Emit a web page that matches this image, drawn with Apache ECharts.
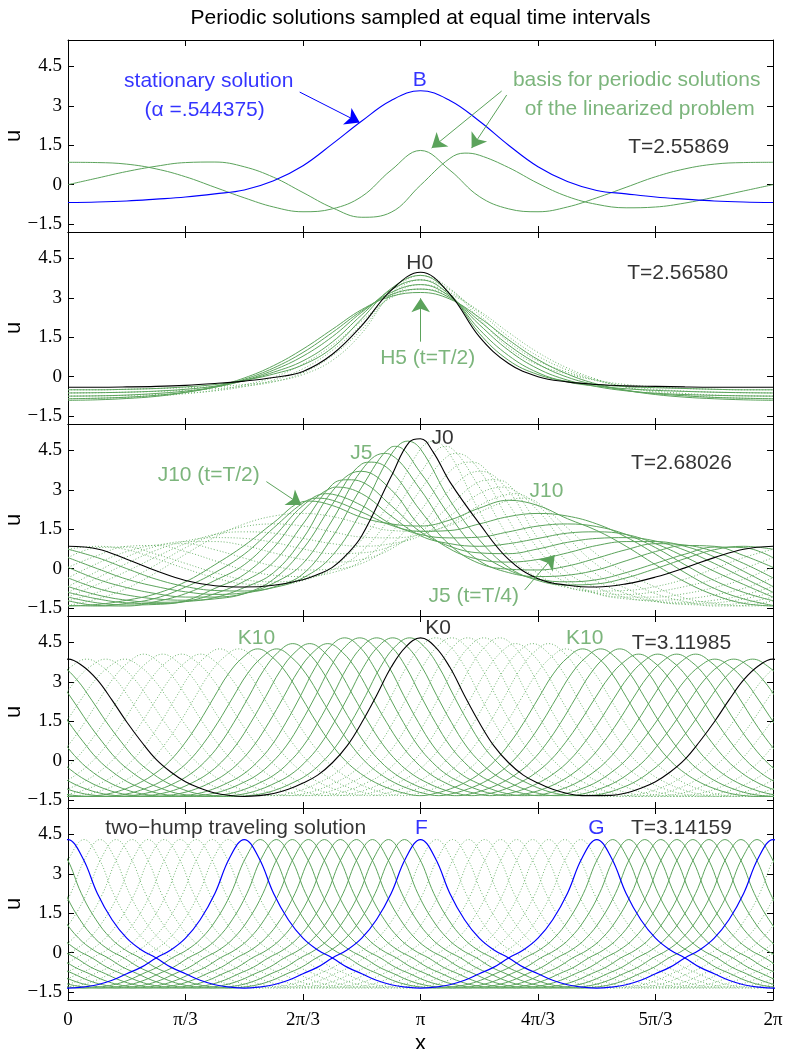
<!DOCTYPE html>
<html><head><meta charset="utf-8">
<script src="https://cdn.jsdelivr.net/npm/echarts@6/dist/echarts.min.js"></script>
<style>html,body{margin:0;padding:0;background:#fff}#c{width:786px;height:1049px}</style>
</head><body><div id="c"></div>
<script>
const PI = Math.PI;
// ---------------- axis data ----------------
const X_TICKS = [0, PI/3, 2*PI/3, PI, 4*PI/3, 5*PI/3, 2*PI];
const X_TICK_LABELS = ['0','π/3','2π/3','π','4π/3','5π/3','2π'];
const Y_TICKS = [-1.5, 0, 1.5, 3, 4.5];
const Y_TICK_LABELS = ['\u22121.5','0','1.5','3','4.5'];
const TITLE = 'Periodic solutions sampled at equal time intervals';
// sampling grid: 25 points, step pi/12
const XS = Array.from({length: 25}, (_, i) => i * PI / 12);
const STEP = PI / 24; // profile offset step

// ---------------- panel 1 : stationary solution B ----------------
const B_STATIONARY = [-0.68,-0.66,-0.62,-0.55,-0.47,-0.35,-0.2,0.15,0.72,1.55,2.42,3.2,3.57,3.2,2.42,1.5,0.68,0.12,-0.22,-0.35,-0.47,-0.55,-0.62,-0.66,-0.68];
const BASIS_A = [0.85,0.84,0.78,0.6,0.3,-0.1,-0.5,-0.85,-1.03,-0.92,-0.45,0.55,1.3,0.55,-0.45,-0.92,-1.03,-0.85,-0.5,-0.1,0.3,0.6,0.78,0.84,0.85];
const BASIS_B = [0.0,0.25,0.5,0.7,0.84,0.86,0.68,0.28,-0.3,-0.88,-1.24,-1.05,-0.02,1.0,1.12,0.65,0.05,-0.45,-0.75,-0.88,-0.85,-0.7,-0.48,-0.24,0.0];
const BASIS_B_EXTREMA = [[3.537,1.2]];

// ---------------- panel 2 : H family ----------------
const H0 = [-0.4,-0.4,-0.39,-0.37,-0.33,-0.26,-0.17,-0.03,0.2,0.85,1.94,3.28,3.97,3.14,1.52,0.5,0.0,-0.2,-0.3,-0.35,-0.37,-0.39,-0.4,-0.4,-0.4];
const H1 = [-0.5,-0.5,-0.48,-0.45,-0.39,-0.3,-0.14,0.1,0.45,1.1,2.2,3.35,3.85,3.15,1.65,0.62,0.08,-0.18,-0.3,-0.38,-0.42,-0.45,-0.48,-0.5,-0.5];
const H2 = [-0.62,-0.61,-0.59,-0.55,-0.48,-0.36,-0.15,0.17,0.6,1.32,2.35,3.3,3.68,3.1,1.8,0.8,0.15,-0.2,-0.36,-0.46,-0.52,-0.56,-0.59,-0.61,-0.62];
const H3 = [-0.74,-0.73,-0.7,-0.64,-0.55,-0.4,-0.14,0.25,0.78,1.52,2.45,3.2,3.5,3.05,1.98,1.0,0.3,-0.13,-0.38,-0.54,-0.63,-0.68,-0.71,-0.73,-0.74];
const H4 = [-0.84,-0.82,-0.78,-0.71,-0.59,-0.4,-0.1,0.33,0.92,1.68,2.5,3.12,3.33,3.0,2.12,1.2,0.48,-0.02,-0.32,-0.52,-0.65,-0.73,-0.79,-0.82,-0.84];
const H5 = [-0.9,-0.88,-0.83,-0.75,-0.6,-0.38,-0.05,0.42,1.05,1.8,2.55,3.05,3.2,2.95,2.25,1.4,0.65,0.1,-0.28,-0.52,-0.68,-0.78,-0.84,-0.88,-0.9];
const H6 = [-0.84,-0.82,-0.79,-0.73,-0.65,-0.52,-0.32,-0.02,0.48,1.2,2.12,3.0,3.33,3.12,2.5,1.68,0.92,0.33,-0.1,-0.4,-0.59,-0.71,-0.78,-0.82,-0.84];
const H7 = [-0.74,-0.73,-0.71,-0.68,-0.63,-0.54,-0.38,-0.13,0.3,1.0,1.98,3.05,3.5,3.2,2.45,1.52,0.78,0.25,-0.14,-0.4,-0.55,-0.64,-0.7,-0.73,-0.74];
const H8 = [-0.62,-0.61,-0.59,-0.56,-0.52,-0.46,-0.36,-0.2,0.15,0.8,1.8,3.1,3.68,3.3,2.35,1.32,0.6,0.17,-0.15,-0.36,-0.48,-0.55,-0.59,-0.61,-0.62];
const H9 = [-0.5,-0.5,-0.48,-0.45,-0.42,-0.38,-0.3,-0.18,0.08,0.62,1.65,3.15,3.85,3.35,2.2,1.1,0.45,0.1,-0.14,-0.3,-0.39,-0.45,-0.48,-0.5,-0.5];

// ---------------- panel 3 : J family ----------------
const J0 = [0.85,0.75,0.36,-0.08,-0.45,-0.65,-0.7,-0.63,-0.42,0.05,1.25,3.5,4.94,3.3,1.72,0.35,-0.38,-0.63,-0.7,-0.58,-0.32,0.03,0.42,0.74,0.85];
const J0_EXTRA = [[2.225,-0.22],[2.487,0.55],[3.043,4.82],[3.252,4.45]];
const J1 = [0.74,0.42,0.0,-0.4,-0.68,-0.83,-0.85,-0.72,-0.35,0.5,2.2,4.34,4.55,2.6,1.1,0.05,-0.45,-0.62,-0.58,-0.35,0.0,0.38,0.72,0.85,0.74];
const J2 = [0.42,0.0,-0.4,-0.68,-0.88,-0.98,-0.92,-0.7,-0.2,1.2,3.1,4.62,3.65,2.0,0.65,-0.05,-0.4,-0.5,-0.42,-0.15,0.2,0.55,0.82,0.8,0.42];
const J3 = [0.05,-0.4,-0.72,-0.95,-1.08,-1.08,-0.95,-0.55,0.2,1.85,3.75,4.33,3.0,1.35,0.3,-0.15,-0.3,-0.25,-0.05,0.3,0.65,0.88,0.85,0.5,0.05];
const J4 = [-0.35,-0.75,-1.0,-1.15,-1.2,-1.15,-0.95,-0.4,0.75,2.45,3.98,3.7,2.2,0.9,0.2,-0.02,-0.05,0.1,0.4,0.72,0.95,0.9,0.65,0.2,-0.35];
const J5 = [-0.68,-1.0,-1.2,-1.28,-1.25,-1.1,-0.72,-0.15,1.15,2.95,3.7,3.0,1.6,0.75,0.35,0.25,0.35,0.6,0.88,1.03,1.03,0.85,0.45,-0.1,-0.68];
const J6 = [-0.9,-1.15,-1.3,-1.33,-1.25,-0.95,-0.48,0.25,1.7,3.2,3.3,2.4,1.4,0.85,0.6,0.57,0.75,1.0,1.15,1.18,1.05,0.7,0.2,-0.35,-0.9];
const J7 = [-1.08,-1.3,-1.38,-1.36,-1.22,-0.75,-0.22,0.8,2.2,3.08,2.85,2.0,1.25,0.95,0.85,0.95,1.15,1.35,1.4,1.3,0.95,0.45,-0.1,-0.6,-1.08];
const J8 = [-1.22,-1.4,-1.42,-1.25,-0.95,-0.45,0.15,1.2,2.4,2.83,2.4,1.7,1.3,1.17,1.2,1.4,1.62,1.7,1.6,1.3,0.8,0.15,-0.45,-0.9,-1.22];
const J9 = [-1.4,-1.42,-1.32,-1.12,-0.7,-0.15,0.55,1.55,2.5,2.6,2.15,1.65,1.42,1.45,1.7,1.98,2.1,2.0,1.7,1.2,0.55,-0.15,-0.75,-1.15,-1.4];
const J10 = [-1.42,-1.36,-1.2,-0.95,-0.5,0.15,0.88,1.75,2.55,2.4,1.95,1.7,1.62,1.85,2.3,2.6,2.4,1.9,1.45,0.85,0.15,-0.5,-1.0,-1.32,-1.42];
const J11 = [-1.4,-1.15,-0.75,-0.15,0.55,1.2,1.7,2.0,2.1,1.98,1.7,1.45,1.42,1.65,2.15,2.6,2.5,1.55,0.55,-0.15,-0.7,-1.12,-1.32,-1.42,-1.4];
const J12 = [-1.22,-0.9,-0.45,0.15,0.8,1.3,1.6,1.7,1.62,1.4,1.2,1.17,1.3,1.7,2.4,2.83,2.4,1.2,0.15,-0.45,-0.95,-1.25,-1.42,-1.4,-1.22];
const J13 = [-1.08,-0.6,-0.1,0.45,0.95,1.3,1.4,1.35,1.15,0.95,0.85,0.95,1.25,2.0,2.85,3.08,2.2,0.8,-0.22,-0.75,-1.22,-1.36,-1.38,-1.3,-1.08];
const J14 = [-0.9,-0.35,0.2,0.7,1.05,1.18,1.15,1.0,0.75,0.57,0.6,0.85,1.4,2.4,3.3,3.2,1.7,0.25,-0.48,-0.95,-1.25,-1.33,-1.3,-1.15,-0.9];
const J15 = [-0.68,-0.1,0.45,0.85,1.03,1.03,0.88,0.6,0.35,0.25,0.35,0.75,1.6,3.0,3.7,2.95,1.15,-0.15,-0.72,-1.1,-1.25,-1.28,-1.2,-1.0,-0.68];
const J16 = [-0.35,0.2,0.65,0.9,0.95,0.72,0.4,0.1,-0.05,-0.02,0.2,0.9,2.2,3.7,3.98,2.45,0.75,-0.4,-0.95,-1.15,-1.2,-1.15,-1.0,-0.75,-0.35];
const J17 = [0.05,0.5,0.85,0.88,0.65,0.3,-0.05,-0.25,-0.3,-0.15,0.3,1.35,3.0,4.33,3.75,1.85,0.2,-0.55,-0.95,-1.08,-1.08,-0.95,-0.72,-0.4,0.05];
const J18 = [0.42,0.8,0.82,0.55,0.2,-0.15,-0.42,-0.5,-0.4,-0.05,0.65,2.0,3.65,4.62,3.1,1.2,-0.2,-0.7,-0.92,-0.98,-0.88,-0.68,-0.4,0.0,0.42];
const J19 = [0.74,0.85,0.72,0.38,0.0,-0.35,-0.58,-0.62,-0.45,0.05,1.1,2.6,4.55,4.34,2.2,0.5,-0.35,-0.72,-0.85,-0.83,-0.68,-0.4,0.0,0.42,0.74];
// main hump crest (x, u) of each J curve
const J_PEAKS = [null,[3.027,4.85],[2.920,4.65],[2.814,4.38],[2.707,4.05],[2.600,3.70],[2.493,3.38],[2.395,3.10],[2.297,2.85],[2.217,2.68],[2.154,2.57],
  [4.066,2.68],[3.986,2.85],[3.888,3.10],[3.790,3.38],[3.683,3.70],[3.576,4.05],[3.469,4.38],[3.363,4.65],[3.256,4.85]];

// ---------------- panel 4 : K family (two humps travelling, exchanging height) ----------------
const K_PROFILES = [ // hump value at offsets 0..12 * pi/24 from crest
  {peak: 3.86, v: [3.86,3.60,3.07,2.30,1.47,0.72,0.05,-0.43,-0.80,-1.05,-1.23,-1.32,-1.36]},
  {peak: 4.05, v: [4.05,3.76,3.18,2.35,1.47,0.68,0.02,-0.46,-0.81,-1.06,-1.23,-1.32,-1.36]},
  {peak: 4.25, v: [4.25,3.93,3.30,2.39,1.46,0.64,-0.02,-0.49,-0.83,-1.07,-1.24,-1.33,-1.36]},
  {peak: 4.45, v: [4.45,4.12,3.42,2.43,1.46,0.60,-0.05,-0.52,-0.84,-1.08,-1.24,-1.33,-1.36]},
  {peak: 4.67, v: [4.67,4.33,3.55,2.47,1.45,0.56,-0.08,-0.55,-0.85,-1.09,-1.25,-1.33,-1.36]}
];
const K_A_POS = [3.1416,3.045,2.894,2.751,2.600,2.466,2.315,2.154,2.003,1.860,1.691,1.521,1.352,1.183,1.013,0.844,0.675,0.505,0.336,0.167];
const K_A_H   = [4.67,4.66,4.64,4.63,4.60,4.57,4.53,4.48,4.42,4.33,4.26,4.20,4.15,4.10,4.05,4.00,3.96,3.92,3.89,3.87];
const K_B_POS = [6.283,6.102,5.933,5.764,5.594,5.425,5.256,5.086,4.917,4.748,4.587,4.436,4.284,4.142,3.990,3.847,3.705,3.562,3.420,3.277];
const K_B_H   = [3.86,3.87,3.89,3.92,3.96,4.00,4.05,4.10,4.15,4.20,4.25,4.33,4.42,4.48,4.53,4.57,4.60,4.63,4.64,4.66];

// ---------------- panel 5 : two-hump travelling wave ----------------
const TW_PROFILE = [4.3,3.6,2.25,1.25,0.55,0.1,-0.2,-0.55,-0.8,-1.05,-1.22,-1.31,-1.35]; // offsets 0..12 * pi/24
const TW_PEAKS = [3.1416,2.9988,2.8560,2.7132,2.5704,2.4276,2.2848,2.1420,1.9992,1.8564,1.7136,1.5708,
  1.4280,1.2852,1.1424,0.9996,0.8568,0.7140,0.5712,0.4284,0.2856,0.1428];

// ---------------- annotations ----------------
const BLUE = '#0000ff', GREEN = '#5ba35b', GREEN_DOT = '#6fb56f', BLACK = '#000000';
const LABELS = [
  {p:0, x:1.254, y:3.92, t:'stationary solution', c:BLUE},
  {p:0, x:1.218, y:2.84, t:'(α =.544375)', c:BLUE},
  {p:0, x:3.134, y:3.98, t:'B', c:BLUE},
  {p:0, x:5.068, y:3.98, t:'basis for periodic solutions', c:GREEN},
  {p:0, x:5.095, y:2.88, t:'of the linearized problem', c:GREEN},
  {p:0, x:5.443, y:1.43, t:'T=2.55869', c:BLACK},
  {p:1, x:3.134, y:4.31, t:'H0', c:BLACK},
  {p:1, x:5.434, y:3.93, t:'T=2.56580', c:BLACK},
  {p:1, x:3.206, y:0.70, t:'H5 (t=T/2)', c:GREEN},
  {p:2, x:3.339, y:4.97, t:'J0', c:BLACK},
  {p:2, x:5.467, y:4.01, t:'T=2.68026', c:BLACK},
  {p:2, x:2.615, y:4.39, t:'J5', c:GREEN},
  {p:2, x:1.254, y:3.56, t:'J10 (t=T/2)', c:GREEN},
  {p:2, x:4.264, y:2.93, t:'J10', c:GREEN},
  {p:2, x:3.616, y:-1.06, t:'J5 (t=T/4)', c:GREEN},
  {p:3, x:1.679, y:4.65, t:'K10', c:GREEN},
  {p:3, x:3.298, y:5.03, t:'K0', c:BLACK},
  {p:3, x:4.605, y:4.65, t:'K10', c:GREEN},
  {p:3, x:5.467, y:4.46, t:'T=3.11985', c:BLACK},
  {p:4, x:1.495, y:4.73, t:'two\u2212hump traveling solution', c:BLACK},
  {p:4, x:3.150, y:4.73, t:'F', c:BLUE},
  {p:4, x:4.709, y:4.73, t:'G', c:BLUE},
  {p:4, x:5.467, y:4.73, t:'T=3.14159', c:BLACK}
];
const ARROWS = [
  {p:0, from:[2.065,3.52], to:[2.600,2.36], c:BLUE},
  {p:0, from:[3.865,3.56], to:[3.241,1.39], c:GREEN},
  {p:0, from:[3.910,3.41], to:[3.597,1.39], c:GREEN},
  {p:1, from:[3.143,1.33], to:[3.143,2.98], c:GREEN},
  {p:2, from:[1.768,3.31], to:[2.080,2.42], c:GREEN},
  {p:2, from:[4.070,-0.81], to:[4.338,0.52], c:GREEN}
];

// ---------------- builders ----------------
function gridSeries(arr, extra) {
  const pts = XS.map((x, i) => [x, arr[i]]);
  if (extra) extra.forEach(e => { if (e) pts.push(e); });
  pts.sort((a, b) => a[0] - b[0]);
  return pts;
}
function nearestProfile(h) {
  let best = K_PROFILES[0];
  for (const pr of K_PROFILES) if (Math.abs(pr.peak - h) < Math.abs(best.peak - h)) best = pr;
  return best.v;
}
function twoHump(pa, ha, pb, hb) {
  const centers = [];
  for (const m of [-1, 0, 1]) { centers.push({c: pa + m*2*PI, h: ha}); centers.push({c: pb + m*2*PI, h: hb}); }
  centers.sort((a, b) => a.c - b.c);
  const pts = [];
  for (let j = 1; j < centers.length - 1; j++) {
    const c = centers[j].c, prof = nearestProfile(centers[j].h);
    const lo = (centers[j-1].c + c) / 2, hi = (c + centers[j+1].c) / 2;
    for (let d = -14; d <= 14; d++) {
      const x = c + d*STEP;
      if (x < lo || x >= hi) continue;
      pts.push([x, prof[Math.min(Math.abs(d), 12)]]);
    }
  }
  return pts.filter(p => p[0] > -0.6 && p[0] < 2*PI + 0.6).sort((a, b) => a[0] - b[0]);
}
function travelling(peak) {
  const pts = [];
  for (const m of [-1, 0, 1, 2]) {
    const c = peak + m*PI;
    for (let d = -12; d < 12; d++) pts.push([c + d*STEP, TW_PROFILE[Math.abs(d)]]);
  }
  return pts.filter(p => p[0] > -0.6 && p[0] < 2*PI + 0.6).sort((a, b) => a[0] - b[0]);
}

// ---------------- axes ----------------
const PANEL_TOPS = [40, 232, 424, 616, 808];
const grid = PANEL_TOPS.map(t => ({left: 68, width: 705, top: t, height: 192, containLabel: false, outerBoundsMode: 'none'}));
const xAxis = [], yAxis = [];
const tickStyle = {inside: true, length: 6, lineStyle: {color: '#000', width: 1}};
const axLine = {show: true, onZero: false, lineStyle: {color: '#000', width: 1}};
PANEL_TOPS.forEach((t, p) => {
  const last = p === 4;
  xAxis.push({type: 'value', gridIndex: p, min: 0, max: 2*PI, position: 'bottom',
    axisLine: axLine, axisTick: Object.assign({customValues: X_TICKS}, tickStyle),
    axisLabel: {show: last, customValues: X_TICKS, margin: 11,
      formatter: v => X_TICK_LABELS[Math.round(v / (PI/3))],
      fontFamily: 'Liberation Serif', fontSize: 19, color: '#000'},
    splitLine: {show: false},
    name: last ? 'x' : '', nameLocation: 'middle', nameGap: 33, nameMoveOverlap: false,
    nameTextStyle: {fontFamily: 'Liberation Sans', fontSize: 22, color: '#000'}});
  xAxis.push({type: 'value', gridIndex: p, min: 0, max: 2*PI, position: 'top',
    axisLine: axLine, axisTick: Object.assign({customValues: X_TICKS}, tickStyle),
    axisLabel: {show: false}, splitLine: {show: false}});
  yAxis.push({type: 'value', gridIndex: p, min: -1.8, max: 5.5, position: 'left',
    axisLine: axLine, axisTick: Object.assign({customValues: Y_TICKS}, tickStyle),
    axisLabel: {customValues: Y_TICKS, margin: 6,
      formatter: v => Y_TICK_LABELS[Y_TICKS.findIndex(q => Math.abs(q - v) < 1e-6)],
      fontFamily: 'Liberation Serif', fontSize: 19, color: '#000'},
    splitLine: {show: false},
    name: 'u', nameLocation: 'middle', nameGap: 43, nameRotate: 90, nameMoveOverlap: false,
    nameTextStyle: {fontFamily: 'Liberation Sans', fontSize: 22, color: '#000'}});
  yAxis.push({type: 'value', gridIndex: p, min: -1.8, max: 5.5, position: 'right',
    axisLine: axLine, axisTick: Object.assign({customValues: Y_TICKS}, tickStyle),
    axisLabel: {show: false}, splitLine: {show: false}});
});

// ---------------- series ----------------
const series = [];
function addLine(p, data, color, width, type, z) {
  series.push({type: 'line', xAxisIndex: 2*p, yAxisIndex: 2*p, data, symbol: 'none', showSymbol: false,
    smooth: 0.4, clip: true, silent: true, animation: false, z,
    lineStyle: {color, width, type: type || 'solid'}});
}
const DOT = [1, 2];
// panel 1
addLine(0, gridSeries(BASIS_A), GREEN, 1, 'solid', 3);
addLine(0, gridSeries(BASIS_B, BASIS_B_EXTREMA), GREEN, 1, 'solid', 3);
addLine(0, gridSeries(B_STATIONARY), BLUE, 1.1, 'solid', 4);
// panel 2
[H6, H7, H8, H9].forEach(a => addLine(1, gridSeries(a), GREEN_DOT, 1, DOT, 2));
[H1, H2, H3, H4, H5].forEach(a => addLine(1, gridSeries(a), GREEN, 1, 'solid', 3));
addLine(1, gridSeries(H0), BLACK, 1.1, 'solid', 4);
// panel 3
const JS = [J0,J1,J2,J3,J4,J5,J6,J7,J8,J9,J10,J11,J12,J13,J14,J15,J16,J17,J18,J19];
for (let k = 11; k <= 19; k++) addLine(2, gridSeries(JS[k], [J_PEAKS[k]]), GREEN_DOT, 1, DOT, 2);
for (let k = 1; k <= 10; k++) addLine(2, gridSeries(JS[k], [J_PEAKS[k]]), GREEN, 1, 'solid', 3);
addLine(2, gridSeries(J0, J0_EXTRA), BLACK, 1.1, 'solid', 4);
// panel 4
for (let k = 11; k <= 19; k++) addLine(3, twoHump(K_A_POS[k], K_A_H[k], K_B_POS[k], K_B_H[k]), GREEN_DOT, 1, DOT, 2);
for (let k = 1; k <= 10; k++) addLine(3, twoHump(K_A_POS[k], K_A_H[k], K_B_POS[k], K_B_H[k]), GREEN, 1, 'solid', 3);
addLine(3, twoHump(K_A_POS[0], K_A_H[0], K_B_POS[0], K_B_H[0]), BLACK, 1.1, 'solid', 4);
// panel 5
for (let k = 12; k <= 21; k++) addLine(4, travelling(TW_PEAKS[k]), GREEN_DOT, 1, DOT, 2);
for (let k = 1; k <= 10; k++) addLine(4, travelling(TW_PEAKS[k]), GREEN, 1, 'solid', 3);
addLine(4, travelling(TW_PEAKS[0]), BLUE, 1.2, 'solid', 4);
addLine(4, travelling(TW_PEAKS[11]), BLUE, 1.2, 'solid', 4);

// annotations (text + arrows), placed in data coordinates
for (let p = 0; p < 5; p++) {
  const labs = LABELS.filter(l => l.p === p);
  const arrs = ARROWS.filter(a => a.p === p);
  series.push({type: 'scatter', xAxisIndex: 2*p, yAxisIndex: 2*p, symbolSize: 1, silent: true, animation: false, z: 10,
    itemStyle: {color: 'rgba(0,0,0,0)'},
    data: labs.map(l => ({value: [l.x, l.y], label: {show: true, position: 'inside', formatter: l.t, color: l.c,
      fontFamily: 'Liberation Sans', fontSize: 21}})),
    markLine: arrs.length ? {silent: true, animation: false, symbol: ['none', 'arrow'], symbolSize: 14, label: {show: false},
      data: arrs.map(a => [{coord: a.from, lineStyle: {color: a.c, width: 1, type: 'solid'}, itemStyle: {color: a.c}}, {coord: a.to}])} : undefined});
}

const chart = echarts.init(document.getElementById('c'), null, {renderer: 'canvas'});
chart.setOption({
  animation: false,
  backgroundColor: '#fff',
  grid, xAxis, yAxis, series,
  graphic: [{type: 'text', x: 420.5, y: 18, silent: true,
    style: {text: TITLE, fontFamily: 'Liberation Sans', fontSize: 21, fill: '#000', align: 'center', verticalAlign: 'middle'}}]
});
</script></body></html>
